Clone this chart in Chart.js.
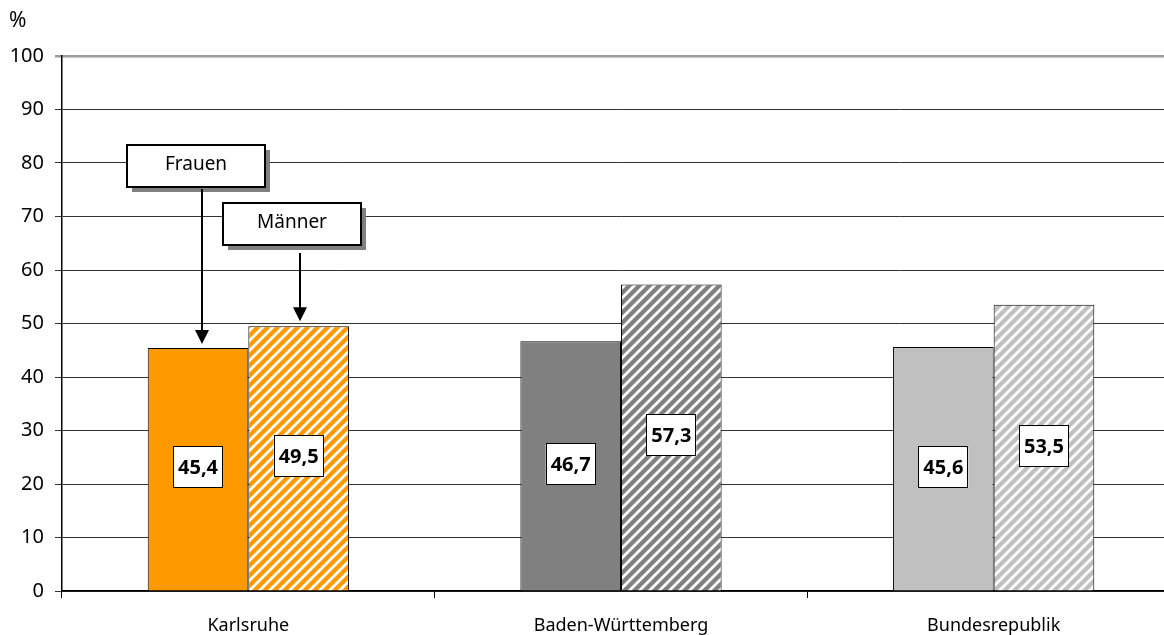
<!DOCTYPE html>
<html>
<head>
<meta charset="utf-8">
<script src="https://cdn.jsdelivr.net/npm/chart.js@4/dist/chart.umd.min.js"></script>
<style>
  html, body { margin: 0; padding: 0; background: #fff; overflow: hidden; }
  #wrap { width: 1180px; height: 635px; }
</style>
</head>
<body>
<div id="wrap"><canvas id="chart" width="1180" height="635"></canvas></div>
<script>
// Daten
const regions = ['Karlsruhe', 'Baden-Württemberg', 'Bundesrepublik'];
const frauen = [45.4, 46.7, 45.6];
const maenner = [49.5, 57.3, 53.5];
const yTicks = [0, 10, 20, 30, 40, 50, 60, 70, 80, 90, 100];

const baseColors = ['#ff9900', '#808080', '#c0c0c0'];
const FONT = '"Noto Sans", "Open Sans", sans-serif';

// schraffur
function hatch(color) {
  const c = document.createElement('canvas');
  c.width = 10; c.height = 10;
  const g = c.getContext('2d');
  g.fillStyle = color;
  g.fillRect(0, 0, 10, 10);
  g.strokeStyle = '#ffffff';
  g.lineWidth = 2.8;
  g.beginPath();
  g.moveTo(-2, 12); g.lineTo(12, -2);
  g.moveTo(-7, 7); g.lineTo(7, -7);
  g.moveTo(3, 17); g.lineTo(17, 3);
  g.stroke();
  return g.createPattern(c, 'repeat');
}

const extras = {
  id: 'extras',
  afterDatasetsDraw(chart) {
    const ctx = chart.ctx;
    // Wertelabels
    chart.data.datasets.forEach((ds, di) => {
      const meta = chart.getDatasetMeta(di);
      meta.data.forEach((bar, i) => {
        const txt = ds.data[i].toFixed(1).replace('.', ',');
        const y = Math.round((bar.y + bar.base) / 2) - 2;
        ctx.save();
        ctx.fillStyle = '#fff';
        ctx.strokeStyle = '#000';
        ctx.lineWidth = 1;
        ctx.fillRect(bar.x - 25, y - 20, 50, 41);
        ctx.strokeRect(Math.round(bar.x) - 24.5, y - 20.5, 49, 41);
        ctx.fillStyle = '#000';
        ctx.font = 'bold 20px ' + FONT;
        ctx.textAlign = 'center';
        ctx.textBaseline = 'middle';
        ctx.fillText(txt, bar.x, y + 1);
        ctx.restore();
      });
    });

    // %
    ctx.save();
    ctx.fillStyle = '#000';
    ctx.font = '21px ' + FONT;
    ctx.textAlign = 'left';
    ctx.textBaseline = 'middle';
    ctx.fillText('%', 9, 21);
    ctx.restore();

    // Legende als Kästen mit Pfeilen
    const f = chart.getDatasetMeta(0).data[0];
    const m = chart.getDatasetMeta(1).data[0];
    callout(ctx, 127, 145, 138, 42, 'Frauen');
    callout(ctx, 223, 203, 138, 42, 'Männer');
    arrow(ctx, 202, 189, f.y - 4);
    arrow(ctx, 300, 253, m.y - 5);
  }
};

function callout(ctx, x, y, w, h, label) {
  ctx.save();
  ctx.fillStyle = '#808080';
  ctx.fillRect(x + 5, y + 5, w, h);
  ctx.fillStyle = '#fff';
  ctx.fillRect(x, y, w, h);
  ctx.strokeStyle = '#000';
  ctx.lineWidth = 2;
  ctx.strokeRect(x, y, w, h);
  ctx.fillStyle = '#000';
  ctx.font = '19px ' + FONT;
  ctx.textAlign = 'center';
  ctx.textBaseline = 'middle';
  ctx.fillText(label, x + w / 2, y + h / 2 - 1);
  ctx.restore();
}

function arrow(ctx, x, y1, y2) {
  ctx.save();
  ctx.strokeStyle = '#000';
  ctx.fillStyle = '#000';
  ctx.lineWidth = 2;
  ctx.beginPath();
  ctx.moveTo(x, y1);
  ctx.lineTo(x, y2 - 12);
  ctx.stroke();
  ctx.beginPath();
  ctx.moveTo(x - 7, y2 - 14);
  ctx.lineTo(x + 7, y2 - 14);
  ctx.lineTo(x, y2);
  ctx.closePath();
  ctx.fill();
  ctx.restore();
}

const ctx = document.getElementById('chart').getContext('2d');
new Chart(ctx, {
  type: 'bar',
  data: {
    labels: regions,
    datasets: [
      {
        label: 'Frauen',
        data: frauen,
        backgroundColor: baseColors,
        borderColor: '#000',
        borderWidth: 1,
        categoryPercentage: 0.54,
        barPercentage: 1
      },
      {
        label: 'Männer',
        data: maenner,
        backgroundColor: baseColors.map(hatch),
        borderColor: '#000',
        borderWidth: 1,
        categoryPercentage: 0.54,
        barPercentage: 1
      }
    ]
  },
  options: {
    responsive: false,
    animation: false,
    layout: { padding: { top: 56, right: 0, left: 0, bottom: 0 } },
    plugins: {
      legend: { display: false },
      tooltip: { enabled: false }
    },
    scales: {
      x: {
        afterFit(s) { s.height = 44; },
        grid: {
          offset: true,
          drawOnChartArea: false,
          color: '#000',
          tickLength: 7
        },
        border: { color: '#000', width: 1.5 },
        ticks: {
          color: '#000',
          font: { family: FONT, size: 18 },
          padding: 17
        }
      },
      y: {
        min: 0,
        max: 100,
        afterFit(s) { s.width = 62; },
        afterBuildTicks(s) { s.ticks = yTicks.map(v => ({ value: v })); },
        grid: {
          color: c => c.tick && c.tick.value === 100 ? '#999' : '#333',
          lineWidth: c => c.tick && c.tick.value === 100 ? 2.5 : 1,
          tickLength: 7
        },
        border: { color: '#000', width: 1.5 },
        ticks: {
          color: '#000',
          font: { family: FONT, size: 20 },
          padding: 11
        }
      }
    }
  },
  plugins: [extras]
});
</script>
</body>
</html>
